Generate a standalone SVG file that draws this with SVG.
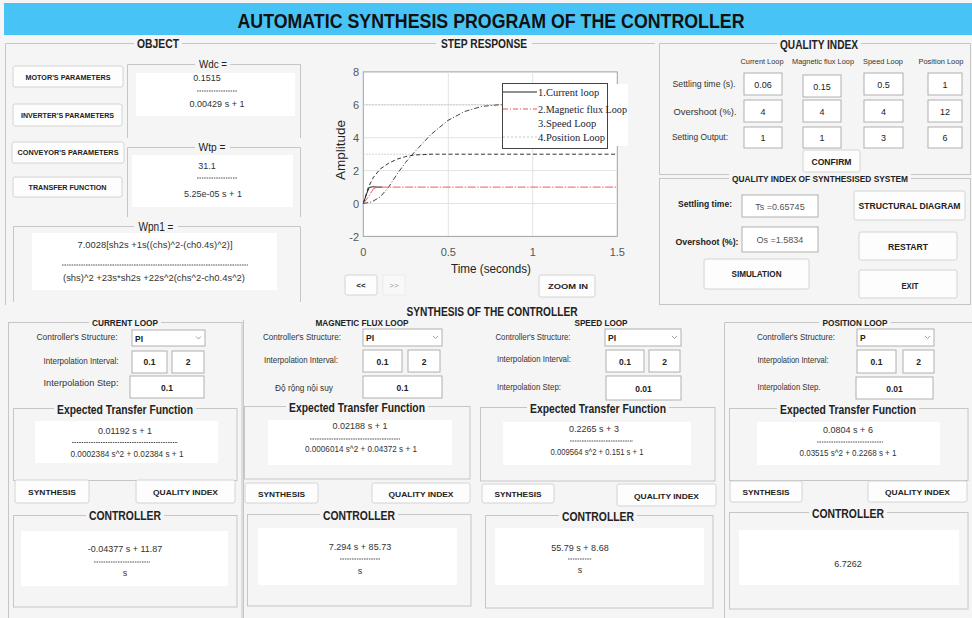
<svg xmlns="http://www.w3.org/2000/svg" width="972" height="618" viewBox="0 0 972 618">
<style>
text{font-family:"Liberation Sans",Arial,sans-serif;fill:#222}
.c{text-anchor:middle}
.b{font-weight:bold}
.f{fill:none;stroke:#c6c6c6;stroke-width:1}
.tb{fill:#f5f5f5}
.btn{fill:#fdfdfd;stroke:#d4d4d4;stroke-width:1}
.in{fill:#fff;stroke:#b0b0b0;stroke-width:1}
.wb{fill:#fff}
.d{stroke:#555;stroke-width:1;stroke-dasharray:1.6 0.8}
.s7{font-size:7px}
.s8{font-size:8px}
.s85{font-size:8.5px}
.s9{font-size:9px}
.s10{font-size:10px}
.s12{font-size:12px}
.lb{fill:#333}
.tf{fill:#333;font-size:9px}
.gl{stroke:#e3e3e3;stroke-width:1}
.tk{font-size:11px;fill:#555}
.chev{fill:none;stroke:#888;stroke-width:0.8}
.lg{font-family:"Liberation Serif","Times New Roman",serif;font-size:10.5px;fill:#223}
</style>
<rect x="0" y="0" width="972" height="618" fill="#f5f5f5"/>

<g id="title">
<rect x="4" y="3" width="968" height="32" fill="#47c4f5"/>
<text class="c b" x="491" y="28" font-size="21" textLength="507" lengthAdjust="spacingAndGlyphs" style="fill:#111">AUTOMATIC SYNTHESIS PROGRAM OF THE CONTROLLER</text>
</g>

<g id="object-panel">
<path class="f" d="M655,43.5 H5.5 V305"/>
<rect class="tb" x="134" y="37" width="48" height="12"/>
<text class="c b s12" x="158" y="48" textLength="42" lengthAdjust="spacingAndGlyphs">OBJECT</text>

<g id="btn-motor"><rect class="btn" x="13" y="66" width="110" height="21" rx="2"/><text class="c b s7" x="68" y="79.5" textLength="85" lengthAdjust="spacingAndGlyphs">MOTOR'S PARAMETERS</text></g>
<g id="btn-inverter"><rect class="btn" x="13" y="104" width="109" height="22" rx="2"/><text class="c b s7" x="67.5" y="117.5" textLength="93" lengthAdjust="spacingAndGlyphs">INVERTER'S PARAMETERS</text></g>
<g id="btn-conveyor"><rect class="btn" x="12" y="142" width="112" height="21" rx="2"/><text class="c b s7" x="68" y="155" textLength="101" lengthAdjust="spacingAndGlyphs">CONVEYOR'S PARAMETERS</text></g>
<g id="btn-tf"><rect class="btn" x="13" y="177" width="109" height="20" rx="2"/><text class="c b s7" x="67.5" y="190" textLength="78" lengthAdjust="spacingAndGlyphs">TRANSFER FUNCTION</text></g>

<g id="wdc">
<path class="f" d="M127.5,138 V64.5 H300.5 V138"/>
<rect class="tb" x="195" y="58" width="35" height="12"/>
<text class="c s10" x="213" y="68" textLength="28" lengthAdjust="spacingAndGlyphs">Wdc =</text>
<rect class="wb" x="136" y="73" width="159" height="43"/>
<text class="tf c" x="207" y="81" font-size="10">0.1515</text>
<line class="d" x1="197" y1="91" x2="237" y2="91"/>
<text class="tf c" x="217" y="107" font-size="10">0.00429 s + 1</text>
</g>
<g id="wtp">
<path class="f" d="M127.5,217 V147.5 H300.5 V217"/>
<rect class="tb" x="195" y="141" width="35" height="12"/>
<text class="c s10" x="212" y="151" textLength="27" lengthAdjust="spacingAndGlyphs">Wtp =</text>
<rect class="wb" x="132" y="155" width="161" height="52"/>
<text class="tf c" x="207" y="169" font-size="10">31.1</text>
<line class="d" x1="197" y1="178" x2="237" y2="178"/>
<text class="tf c" x="213" y="197" font-size="10">5.25e-05 s + 1</text>
</g>
<g id="wpn1">
<path class="f" d="M13.5,302 V226.5 H300.5 V302"/>
<rect class="tb" x="134" y="219" width="44" height="14"/>
<text class="c s12" x="156" y="231" textLength="35" lengthAdjust="spacingAndGlyphs">Wpn1 =</text>
<rect class="wb" x="32" y="233" width="245" height="57"/>
<text class="tf c" x="155" y="248" textLength="155" lengthAdjust="spacingAndGlyphs">7.0028[sh2s +1s((chs)^2-(ch0.4s)^2)]</text>
<line class="d" x1="62" y1="265" x2="248" y2="265"/>
<text class="tf c" x="154" y="281" textLength="182" lengthAdjust="spacingAndGlyphs">(shs)^2 +23s*sh2s +22s^2(chs^2-ch0.4s^2)</text>
</g>
</g>

<g id="step-response">
<rect class="tb" x="436" y="37" width="96" height="12"/>
<text class="c b s12" x="484" y="48" textLength="86" lengthAdjust="spacingAndGlyphs">STEP RESPONSE</text>
<rect x="363.3" y="71.9" width="254" height="164.5" fill="#fff" stroke="#a0a0a0"/>
<g id="grid">
<line class="gl" x1="448.3" y1="72" x2="448.3" y2="236"/>
<line class="gl" x1="532.7" y1="72" x2="532.7" y2="236"/>
<line class="gl" x1="364" y1="104.8" x2="617" y2="104.8"/>
<line class="gl" x1="364" y1="137.7" x2="617" y2="137.7"/>
<line class="gl" x1="364" y1="170.6" x2="617" y2="170.6"/>
<line class="gl" x1="364" y1="203.5" x2="617" y2="203.5"/>
</g>
<g id="ticks" text-anchor="end">
<text class="tk" x="359" y="76">8</text>
<text class="tk" x="359" y="109">6</text>
<text class="tk" x="359" y="142">4</text>
<text class="tk" x="359" y="175">2</text>
<text class="tk" x="359" y="208">0</text>
<text class="tk" x="359" y="241">-2</text>
</g>
<g id="xticks" text-anchor="middle">
<text class="tk" x="363.3" y="256">0</text>
<text class="tk" x="448.3" y="256">0.5</text>
<text class="tk" x="532.7" y="256">1</text>
<text class="tk" x="617.3" y="256">1.5</text>
</g>
<text class="c" font-size="13" transform="translate(345,150) rotate(-90)" textLength="60" lengthAdjust="spacingAndGlyphs">Amplitude</text>
<text class="c" font-size="13" x="491" y="273" textLength="80" lengthAdjust="spacingAndGlyphs">Time (seconds)</text>
<g id="curves" fill="none">
<line x1="363.3" y1="104.8" x2="499" y2="104.8" stroke="#c4c4c4" stroke-dasharray="1.5 1.5"/>
<line x1="363.3" y1="154.2" x2="432" y2="154.2" stroke="#c4c4c4" stroke-dasharray="1.5 1.5"/>
<polyline stroke="#444" stroke-width="1" stroke-dasharray="5 2 1 2" points="363.3,203.5 371.8,201.9 380.2,196.9 388.7,187.1 397.2,173.9 405.6,162.4 414.1,152.5 431,134.4 448,120.4 464.9,111.4 481.8,106.4 498.7,104.8 520,104.8"/>
<polyline stroke="#333" stroke-width="1" stroke-dasharray="4 2.5" points="363.3,203.5 368.4,187.1 373.5,177.2 380.2,169 388.7,163.2 397.2,159.1 405.6,156.6 414.1,155 431,154.2 617.3,154.2"/>
<polyline stroke="#222" stroke-width="1" points="363.3,203.5 366.7,193.6 369.3,187.4 372.7,186.8 377,187.1 382,187.1"/>
<polyline stroke="#f25a5a" stroke-width="1" stroke-dasharray="8 1.5 1.5 1.5" points="363.3,203.5 368.4,196.9 373.5,188.7 377,187.1 617.3,187.1"/>
</g>
<g id="legend">
<rect x="537" y="84" width="91" height="62" fill="#fff"/>
<rect x="502.5" y="83.5" width="105" height="65" fill="#fff" stroke="#444"/>
<line x1="503" y1="92" x2="537" y2="92" stroke="#222"/>
<line x1="503" y1="109" x2="537" y2="109" stroke="#f05050" stroke-dasharray="5 2 1 2"/>
<line x1="503" y1="137" x2="537" y2="137" stroke="#c4c4c4" stroke-dasharray="2 2"/>
<text class="lg" x="538" y="96">1.Current loop</text>
<text class="lg" x="538" y="113" textLength="89" lengthAdjust="spacingAndGlyphs">2.Magnetic flux Loop</text>
<text class="lg" x="538" y="127">3.Speed Loop</text>
<text class="lg" x="538" y="141">4.Position Loop</text>
</g>
<g id="btn-prev"><rect class="btn" x="345" y="275" width="32" height="20" rx="2"/><text class="c b s8" x="361" y="288">&lt;&lt;</text></g>
<g id="btn-next"><rect x="383" y="275" width="22" height="20" fill="#f8f8f8" stroke="#ececec"/><text class="c s8" x="394" y="288" style="fill:#999">&gt;&gt;</text></g>
<g id="btn-zoom"><rect class="btn" x="539" y="275" width="56" height="22" rx="2"/><text class="c b s8" x="568" y="289" textLength="40" lengthAdjust="spacingAndGlyphs">ZOOM IN</text></g>
</g>

<g id="quality-index">
<rect class="f" x="659.5" y="43.5" width="311" height="131"/>
<rect class="tb" x="777" y="37" width="84" height="12"/>
<text class="c b s12" x="819" y="48.5" textLength="78" lengthAdjust="spacingAndGlyphs">QUALITY INDEX</text>
<text class="c s8 lb" x="762" y="64" textLength="43" lengthAdjust="spacingAndGlyphs">Current Loop</text>
<text class="c s8 lb" x="823" y="64" textLength="62" lengthAdjust="spacingAndGlyphs">Magnetic flux Loop</text>
<text class="c s8 lb" x="883" y="64" textLength="40" lengthAdjust="spacingAndGlyphs">Speed Loop</text>
<text class="c s8 lb" x="941" y="64" textLength="45" lengthAdjust="spacingAndGlyphs">Position Loop</text>
<text class="c s9 lb" x="704" y="87" textLength="63" lengthAdjust="spacingAndGlyphs">Settling time (s).</text>
<text class="c s9 lb" x="705" y="115" textLength="63" lengthAdjust="spacingAndGlyphs">Overshoot (%).</text>
<text class="c s9 lb" x="700" y="140" textLength="56" lengthAdjust="spacingAndGlyphs">Setting Output:</text>
<g id="qi-inputs">
<rect class="in" x="744" y="73" width="38" height="22"/><text class="c s9" x="763" y="88">0.06</text>
<rect class="in" x="803" y="75" width="38" height="22"/><text class="c s9" x="822" y="90">0.15</text>
<rect class="in" x="864" y="73" width="39" height="22"/><text class="c s9" x="883.5" y="88">0.5</text>
<rect class="in" x="928" y="73" width="34" height="22"/><text class="c s9" x="945" y="88">1</text>
<rect class="in" x="744" y="100" width="38" height="22"/><text class="c s9" x="763" y="115">4</text>
<rect class="in" x="803" y="100" width="38" height="22"/><text class="c s9" x="822" y="115">4</text>
<rect class="in" x="864" y="100" width="39" height="22"/><text class="c s9" x="883.5" y="115">4</text>
<rect class="in" x="928" y="100" width="34" height="22"/><text class="c s9" x="945" y="115">12</text>
<rect class="in" x="744" y="127" width="38" height="21"/><text class="c s9" x="763" y="141">1</text>
<rect class="in" x="803" y="127" width="38" height="21"/><text class="c s9" x="822" y="141">1</text>
<rect class="in" x="864" y="127" width="39" height="21"/><text class="c s9" x="883.5" y="141">3</text>
<rect class="in" x="928" y="127" width="34" height="21"/><text class="c s9" x="945" y="141">6</text>
</g>
<g id="btn-confirm"><rect class="btn" x="803" y="150" width="57" height="22" rx="2"/><text class="c b s85" x="831.5" y="164.5" textLength="40" lengthAdjust="spacingAndGlyphs">CONFIRM</text></g>
</g>

<g id="qi-synth">
<rect class="f" x="659.5" y="178.5" width="311" height="126"/>
<rect class="tb" x="729" y="173" width="182" height="11"/>
<text class="c b s9" x="820" y="182" textLength="176" lengthAdjust="spacingAndGlyphs">QUALITY INDEX OF SYNTHESISED SYSTEM</text>
<text class="c b s9" x="705" y="207" textLength="54" lengthAdjust="spacingAndGlyphs">Settling time:</text>
<rect class="in" x="742" y="195" width="76" height="22"/><text class="c s9" x="780" y="209.5" style="fill:#555">Ts =0.65745</text>
<text class="c b s9" x="707" y="245" textLength="63" lengthAdjust="spacingAndGlyphs">Overshoot (%):</text>
<rect class="in" x="742" y="227" width="76" height="25"/><text class="c s9" x="780" y="243" style="fill:#555">Os =1.5834</text>
<g id="btn-sim"><rect class="btn" x="704" y="259" width="105" height="30" rx="2"/><text class="c b s9" x="756.5" y="277" textLength="50" lengthAdjust="spacingAndGlyphs">SIMULATION</text></g>
<g id="btn-struct"><rect class="btn" x="854" y="191" width="111" height="29" rx="2"/><text class="c b s9" x="909.5" y="209" textLength="102" lengthAdjust="spacingAndGlyphs">STRUCTURAL DIAGRAM</text></g>
<g id="btn-restart"><rect class="btn" x="859" y="232" width="98" height="28" rx="2"/><text class="c b s9" x="908" y="250" textLength="40" lengthAdjust="spacingAndGlyphs">RESTART</text></g>
<g id="btn-exit"><rect class="btn" x="859" y="270" width="98" height="28" rx="2"/><text class="c b s9" x="910" y="289" textLength="17" lengthAdjust="spacingAndGlyphs">EXIT</text></g>
</g>

<g id="synthesis">
<text class="c b s12" x="492" y="315.5" textLength="171" lengthAdjust="spacingAndGlyphs">SYNTHESIS OF THE CONTROLLER</text>

<g id="current-loop">
<rect class="f" x="8.5" y="322.5" width="233.5" height="310"/>
<rect class="tb" x="89" y="317" width="72" height="11"/>
<text class="c b s9" x="125" y="325.5" textLength="66" lengthAdjust="spacingAndGlyphs">CURRENT LOOP</text>
<text class="c s85 lb" x="77" y="340" textLength="81" lengthAdjust="spacingAndGlyphs">Controller's Structure:</text>
<rect class="in" x="132" y="330" width="73" height="16"/><text class="b s85" x="135" y="341.5">PI</text><polyline class="chev" points="196,336.5 198.5,339 201,336.5"/>
<text class="c s85 lb" x="81" y="364" textLength="75" lengthAdjust="spacingAndGlyphs">Interpolation Interval:</text>
<rect class="in" x="132" y="351" width="35" height="22"/><text class="c b s85" x="149.5" y="365">0.1</text>
<rect class="in" x="172" y="351" width="32" height="22"/><text class="c b s85" x="188" y="365">2</text>
<text class="c s85 lb" x="81" y="386" textLength="75" lengthAdjust="spacingAndGlyphs">Interpolation Step:</text>
<rect class="in" x="130" y="376" width="74" height="22"/><text class="c b s85" x="167" y="391">0.1</text>
<rect class="f" x="13.5" y="408.5" width="223.5" height="72"/>
<rect class="tb" x="54" y="402" width="142" height="14"/>
<text class="c b s12" x="125" y="414" textLength="136" lengthAdjust="spacingAndGlyphs">Expected Transfer Function</text>
<rect class="wb" x="35" y="421" width="183" height="42"/>
<text class="tf c" x="125" y="434">0.01192 s + 1</text>
<line class="d" x1="72" y1="442.5" x2="178" y2="442.5"/>
<text class="tf c" x="127" y="457" textLength="113" lengthAdjust="spacingAndGlyphs">0.0002384 s^2 + 0.02384 s + 1</text>
<g id="cl-synth"><rect class="btn" x="15" y="480" width="74" height="23" rx="2"/><text class="c b s8" x="52" y="495" textLength="48" lengthAdjust="spacingAndGlyphs">SYNTHESIS</text></g>
<g id="cl-qi"><rect class="btn" x="136" y="480" width="99" height="23" rx="2"/><text class="c b s8" x="185.5" y="495" textLength="65" lengthAdjust="spacingAndGlyphs">QUALITY INDEX</text></g>
<rect class="f" x="13.5" y="515.5" width="223.5" height="91.5"/>
<rect class="tb" x="86" y="509" width="78" height="14"/>
<text class="c b s12" x="125" y="520" textLength="72" lengthAdjust="spacingAndGlyphs">CONTROLLER</text>
<rect class="wb" x="21" y="531" width="207" height="55"/>
<text class="tf c" x="125" y="552">-0.04377 s + 11.87</text>
<line class="d" x1="94" y1="562" x2="150" y2="562"/>
<text class="tf c" x="125" y="576">s</text>
</g>

<g id="magnetic-flux-loop">
<line class="f" x1="243.5" y1="320" x2="243.5" y2="618"/>
<text class="c b s9" x="362" y="325.5" textLength="93" lengthAdjust="spacingAndGlyphs">MAGNETIC FLUX LOOP</text>
<text class="c s85 lb" x="302" y="340" textLength="78" lengthAdjust="spacingAndGlyphs">Controller's Structure:</text>
<rect class="in" x="363" y="329" width="79" height="17"/><text class="b s85" x="366" y="341">PI</text><polyline class="chev" points="433,336 435.5,338.5 438,336"/>
<text class="c s85 lb" x="301" y="363" textLength="74" lengthAdjust="spacingAndGlyphs">Interpolation Interval:</text>
<rect class="in" x="363" y="350" width="39" height="22"/><text class="c b s85" x="382.5" y="364.5">0.1</text>
<rect class="in" x="408" y="350" width="32" height="22"/><text class="c b s85" x="424" y="364.5">2</text>
<text class="c s85 lb" x="304" y="391" textLength="58" lengthAdjust="spacingAndGlyphs">Độ rộng nội suy</text>
<rect class="in" x="363" y="376" width="79" height="22"/><text class="c b s85" x="402.5" y="391">0.1</text>
<rect class="f" x="244.5" y="406.5" width="225.5" height="72.5"/>
<rect class="tb" x="286" y="400" width="142" height="14"/>
<text class="c b s12" x="357" y="412" textLength="136" lengthAdjust="spacingAndGlyphs">Expected Transfer Function</text>
<rect class="wb" x="268" y="420" width="184" height="45"/>
<text class="tf c" x="360" y="429">0.02188 s + 1</text>
<line class="d" x1="310" y1="439" x2="400" y2="439"/>
<text class="tf c" x="361" y="452" textLength="112" lengthAdjust="spacingAndGlyphs">0.0006014 s^2 + 0.04372 s + 1</text>
<g id="mf-synth"><rect class="btn" x="245" y="483" width="73" height="20" rx="2"/><text class="c b s8" x="281.5" y="496.5" textLength="47" lengthAdjust="spacingAndGlyphs">SYNTHESIS</text></g>
<g id="mf-qi"><rect class="btn" x="372" y="483" width="98" height="20" rx="2"/><text class="c b s8" x="421" y="496.5" textLength="65" lengthAdjust="spacingAndGlyphs">QUALITY INDEX</text></g>
<rect class="f" x="247.5" y="514.5" width="223.5" height="91.5"/>
<rect class="tb" x="320" y="508" width="78" height="14"/>
<text class="c b s12" x="359" y="519.5" textLength="72" lengthAdjust="spacingAndGlyphs">CONTROLLER</text>
<rect class="wb" x="258" y="528" width="199" height="57"/>
<text class="tf c" x="360" y="550">7.294 s + 85.73</text>
<line class="d" x1="340" y1="559" x2="380" y2="559"/>
<text class="tf c" x="360" y="574">s</text>
</g>

<g id="speed-loop">
<text class="c b s9" x="601" y="326" textLength="53" lengthAdjust="spacingAndGlyphs">SPEED LOOP</text>
<text class="c s85 lb" x="533" y="340" textLength="75" lengthAdjust="spacingAndGlyphs">Controller's Structure:</text>
<rect class="in" x="605" y="329" width="76" height="17"/><text class="b s85" x="608" y="341">PI</text><polyline class="chev" points="672,336 674.5,338.5 677,336"/>
<text class="c s85 lb" x="534" y="362" textLength="74" lengthAdjust="spacingAndGlyphs">Interpolation Interval:</text>
<rect class="in" x="606" y="350" width="38" height="22"/><text class="c b s85" x="625" y="364.5">0.1</text>
<rect class="in" x="649" y="350" width="31" height="22"/><text class="c b s85" x="664.5" y="364.5">2</text>
<text class="c s85 lb" x="529" y="390" textLength="64" lengthAdjust="spacingAndGlyphs">Interpolation Step:</text>
<rect class="in" x="606" y="376" width="75" height="24"/><text class="c b s85" x="643.5" y="392">0.01</text>
<rect class="f" x="480.5" y="407.5" width="234.5" height="73.5"/>
<rect class="tb" x="527" y="401" width="142" height="14"/>
<text class="c b s12" x="598" y="413" textLength="136" lengthAdjust="spacingAndGlyphs">Expected Transfer Function</text>
<rect class="wb" x="503" y="422" width="188" height="43"/>
<text class="tf c" x="594" y="432">0.2265 s + 3</text>
<line class="d" x1="570" y1="441" x2="633" y2="441"/>
<text class="tf c" x="597" y="455" textLength="93" lengthAdjust="spacingAndGlyphs">0.009564 s^2 + 0.151 s + 1</text>
<g id="sp-synth"><rect class="btn" x="482" y="484" width="72" height="19" rx="2"/><text class="c b s8" x="518" y="497" textLength="47" lengthAdjust="spacingAndGlyphs">SYNTHESIS</text></g>
<g id="sp-qi"><rect class="btn" x="617" y="484" width="99" height="22" rx="2"/><text class="c b s8" x="666.5" y="498.5" textLength="65" lengthAdjust="spacingAndGlyphs">QUALITY INDEX</text></g>
<rect class="f" x="485.5" y="515.5" width="227.5" height="92.5"/>
<rect class="tb" x="559" y="509" width="78" height="14"/>
<text class="c b s12" x="598" y="520.5" textLength="72" lengthAdjust="spacingAndGlyphs">CONTROLLER</text>
<rect class="wb" x="495" y="528" width="209" height="57"/>
<text class="tf c" x="580" y="551">55.79 s + 8.68</text>
<line class="d" x1="568" y1="559" x2="592" y2="559"/>
<text class="tf c" x="580" y="573">s</text>
</g>

<g id="position-loop">
<path class="f" d="M972,322.5 H724.5 V618"/>
<rect class="tb" x="819" y="317" width="72" height="11"/>
<text class="c b s9" x="855" y="326" textLength="65" lengthAdjust="spacingAndGlyphs">POSITION LOOP</text>
<text class="c s85 lb" x="796" y="340" textLength="78" lengthAdjust="spacingAndGlyphs">Controller's Structure:</text>
<rect class="in" x="857" y="329" width="77" height="17"/><text class="b s85" x="860" y="341">P</text><polyline class="chev" points="925,336 927.5,338.5 930,336"/>
<text class="c s85 lb" x="793" y="363" textLength="71" lengthAdjust="spacingAndGlyphs">Interpolation Interval:</text>
<rect class="in" x="857" y="350" width="39" height="23"/><text class="c b s85" x="876.5" y="365">0.1</text>
<rect class="in" x="903" y="350" width="31" height="23"/><text class="c b s85" x="918.5" y="365">2</text>
<text class="c s85 lb" x="789" y="390" textLength="63" lengthAdjust="spacingAndGlyphs">Interpolation Step.</text>
<rect class="in" x="856" y="377" width="77" height="22"/><text class="c b s85" x="894.5" y="392">0.01</text>
<rect class="f" x="729.5" y="408.5" width="238.5" height="72"/>
<rect class="tb" x="777" y="402" width="142" height="14"/>
<text class="c b s12" x="848" y="414" textLength="136" lengthAdjust="spacingAndGlyphs">Expected Transfer Function</text>
<rect class="wb" x="757" y="422" width="183" height="43"/>
<text class="tf c" x="848" y="433">0.0804 s + 6</text>
<line class="d" x1="817" y1="442" x2="883" y2="442"/>
<text class="tf c" x="848" y="456" textLength="97" lengthAdjust="spacingAndGlyphs">0.03515 s^2 + 0.2268 s + 1</text>
<g id="po-synth"><rect class="btn" x="730" y="481" width="72" height="21" rx="2"/><text class="c b s8" x="766" y="495" textLength="47" lengthAdjust="spacingAndGlyphs">SYNTHESIS</text></g>
<g id="po-qi"><rect class="btn" x="868" y="481" width="99" height="21" rx="2"/><text class="c b s8" x="917.5" y="495" textLength="65" lengthAdjust="spacingAndGlyphs">QUALITY INDEX</text></g>
<rect class="f" x="729.5" y="512.5" width="238.5" height="96.5"/>
<rect class="tb" x="809" y="506" width="78" height="14"/>
<text class="c b s12" x="848" y="518" textLength="72" lengthAdjust="spacingAndGlyphs">CONTROLLER</text>
<rect class="wb" x="739" y="530" width="220" height="55"/>
<text class="tf c" x="848" y="567">6.7262</text>
</g>
</g>
</svg>
